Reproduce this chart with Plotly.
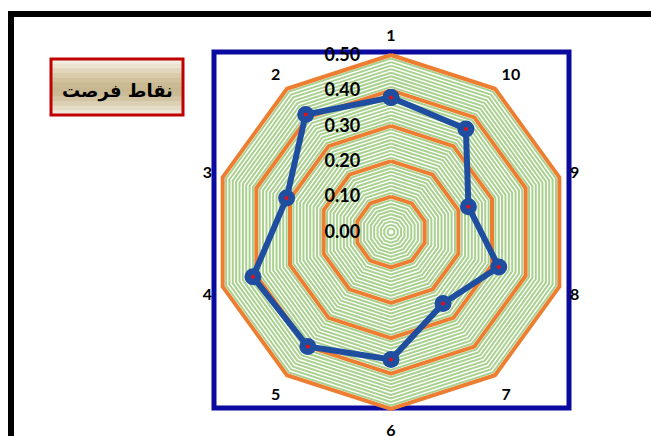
import plotly.graph_objects as go

W, H = 651, 436

categories = ["1", "2", "3", "4", "5", "6", "7", "8", "9", "10"]
values = [0.38, 0.41, 0.31, 0.41, 0.40, 0.36, 0.25, 0.32, 0.23, 0.36]
radial_ticks = [0.0, 0.1, 0.2, 0.3, 0.4, 0.5]
radial_ticktext = ["0.00", "0.10", "0.20", "0.30", "0.40", "0.50"]
minor_ticks = [round(i * 0.01, 2) for i in range(1, 51)]
title_text = "نقاط فرصت"

def px_x(x):
    return x / W

def px_y(y):
    return 1 - y / H

theta = categories + categories[:1]
r = values + values[:1]

fig = go.Figure()

fig.add_trace(go.Scatterpolar(r=[0], theta=[categories[0]], mode="markers",
                              marker=dict(size=0, opacity=0), showlegend=False,
                              hoverinfo="skip", subplot="polar"))

fig.add_trace(go.Scatterpolar(r=r, theta=theta, mode="lines+markers",
                              line=dict(color="#1F4EA0", width=6),
                              marker=dict(size=17, color="#1F4EA0"),
                              showlegend=False, subplot="polar2"))
fig.add_trace(go.Scatterpolar(r=values, theta=categories, mode="markers",
                              marker=dict(size=4, color="#E0101A"),
                              showlegend=False, subplot="polar2"))

cx, cy, R = 391, 232, 177
dom_x = [px_x(cx - R), px_x(cx + R)]
dom_y = [px_y(cy + R), px_y(cy - R)]

common_ang = dict(categoryorder="array", categoryarray=categories,
                  rotation=90, direction="counterclockwise", showgrid=False)

fig.update_layout(
    width=W, height=H,
    margin=dict(l=0, r=0, t=0, b=0),
    paper_bgcolor="white",
    polar=dict(
        domain=dict(x=dom_x, y=dom_y),
        gridshape="linear",
        bgcolor="white",
        radialaxis=dict(range=[0, 0.5], tickvals=minor_ticks, showticklabels=False,
                        showline=False, ticks="", gridcolor="#A9D18E", gridwidth=1.6),
        angularaxis=dict(showline=False, showticklabels=False, ticks="", **common_ang),
    ),
    polar2=dict(
        domain=dict(x=dom_x, y=dom_y),
        gridshape="linear",
        bgcolor="rgba(0,0,0,0)",
        radialaxis=dict(range=[0, 0.5], tickvals=radial_ticks, ticktext=radial_ticktext,
                        showline=False, ticks="outside", ticklen=24,
                        tickcolor="rgba(0,0,0,0)", angle=90, tickangle=90,
                        side="counterclockwise",
                        gridcolor="#ED7D31", gridwidth=3.5,
                        tickfont=dict(family="Lato", size=18, color="black", weight="bold")),
        angularaxis=dict(showline=True, linecolor="#ED7D31", linewidth=4,
                         ticks="outside", ticklen=6, tickcolor="rgba(0,0,0,0)",
                         tickfont=dict(family="Lato", size=16, color="black", weight="bold"),
                         **common_ang),
    ),
)

shapes = []
shapes.append(dict(type="rect", xref="paper", yref="paper",
                   x0=px_x(11), x1=px_x(700), y0=px_y(480), y1=px_y(14),
                   line=dict(color="black", width=6), fillcolor="rgba(0,0,0,0)"))
shapes.append(dict(type="rect", xref="paper", yref="paper", layer="below",
                   x0=px_x(214), x1=px_x(569), y0=px_y(408), y1=px_y(52),
                   line=dict(color="#0A0AA0", width=5), fillcolor="rgba(0,0,0,0)"))

bx0, bx1, by0, by1 = 51, 183, 59, 115
grad = ["#F3EEE2", "#EBE3D0", "#E2D7BC", "#D9CCAB", "#D1C29D", "#CBBB94",
        "#C8B891", "#CBBB95", "#D2C4A2", "#DBD0B3", "#E5DCC6", "#EEE8DA"]
n = len(grad)
for i, c in enumerate(grad):
    ya = by0 + (by1 - by0) * i / n
    yb = by0 + (by1 - by0) * (i + 1) / n + 0.6
    shapes.append(dict(type="rect", xref="paper", yref="paper",
                       x0=px_x(bx0), x1=px_x(bx1), y0=px_y(yb), y1=px_y(ya),
                       line=dict(width=0), fillcolor=c))
shapes.append(dict(type="rect", xref="paper", yref="paper",
                   x0=px_x(bx0), x1=px_x(bx1), y0=px_y(by1), y1=px_y(by0),
                   line=dict(color="#C00000", width=3), fillcolor="rgba(0,0,0,0)"))

fig.update_layout(shapes=shapes)
# RTL text is measured from its logical start in the SVG renderer, so shift back by half its width
fig.add_annotation(x=px_x((bx0 + bx1) / 2), y=px_y((by0 + by1) / 2), xref="paper", yref="paper",
                   text=title_text, showarrow=False, xshift=-57, yshift=9,
                   font=dict(family="DejaVu Sans", size=18, color="black", weight="bold"))

fig.write_html("out.html", config={"displayModeBar": False},
               post_script="document.body.style.margin='0px';")
